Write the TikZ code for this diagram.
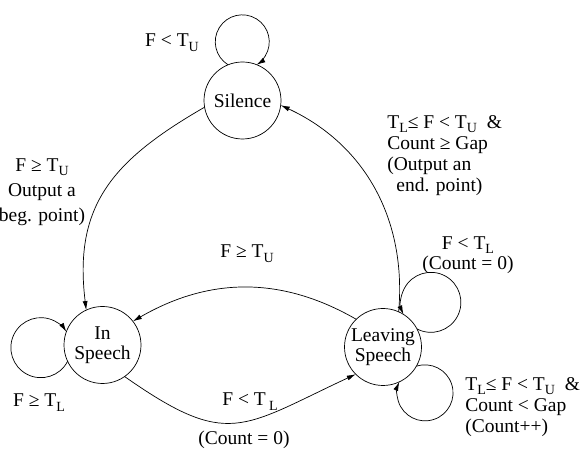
\documentclass[tikz,border=0pt]{standalone}
\usepackage{fontspec}
\setmainfont{Liberation Serif}
\usetikzlibrary{arrows.meta}
\newcommand\lsub[1]{\raisebox{-4.5pt}{\fontsize{14}{14}\selectfont #1}}
\begin{document}
\begin{tikzpicture}[x=1pt,y=1pt,line width=0.7pt,
  state/.style={circle,draw,minimum size=77pt,inner sep=0pt,outer sep=0pt,align=center,font=\fontsize{19.5}{20}\selectfont},
  lbl/.style={inner sep=0pt,font=\fontsize{19.5}{21}\selectfont},
  arr/.style={-{Latex[length=9pt,width=5pt]}}]
\useasboundingbox (0,0) rectangle (582,455);
% states
\node[state] (sil) at (242.5,354.5) {Silence};
\node[state] (insp) at (102.5,110) {In\\Speech};
\node[state] (leav) at (383,108) {Leaving\\Speech};
% self loops
\draw[arr] (sil.112) arc[start angle=238.3,end angle=-58.3,radius=27];
\draw[arr] (insp.205) arc[start angle=-26.95,end angle=-328,radius=30];
\draw[arr] (leav.28) arc[start angle=242.4,end angle=563.7,radius=30];
\draw[arr] (leav.-30) arc[start angle=108.1,end angle=-203.1,radius=28];
% transitions
\draw[arr] (sil.190) to[out=210,in=97,looseness=1.15] (insp.115);
\draw[arr] (leav.66) to[out=85,in=-25,looseness=1] (sil.-7);
\draw[arr] (leav.134) to[out=150,in=30] (insp.38);
\draw[arr] (insp.-55) to[out=-35,in=-155,looseness=1.4] (leav.-135);
% labels
\node[lbl,anchor=base] (l1) at (172,408) {F < T\lsub{U}};
\node[lbl,anchor=north,align=center,font=\fontsize{19.5}{25}\selectfont] (l2) at (42,297) {F ≥ T\lsub{U}\\Output a\\beg. point)};
\node[lbl,anchor=north west,align=left] (l3) at (387,340) {T\lsub{L}≤ F < T\lsub{U}\ \ \&\\Count ≥ Gap\\(Output an\\\hspace*{9pt}end. point)};
\node[lbl,anchor=base] (l4) at (247,197) {F ≥ T\lsub{U}};
\node[lbl,anchor=base] (l5) at (39,48) {F ≥ T\lsub{L}};
\node[lbl,anchor=base] (l6) at (250,49) {F < T\,\lsub{L}};
\node[lbl,anchor=base] (l7) at (244,10) {(Count = 0)};
\node[lbl,anchor=north,align=center,font=\fontsize{19.5}{20}\selectfont] (l8) at (468,219) {F < T\lsub{L}\\(Count = 0)};
\node[lbl,anchor=north west,align=left,font=\fontsize{19.5}{21}\selectfont] (l9) at (465,78) {T\lsub{L}≤ F < T\lsub{U}\ \ \&\\Count < Gap\\(Count++)};
\end{tikzpicture}
\end{document}
